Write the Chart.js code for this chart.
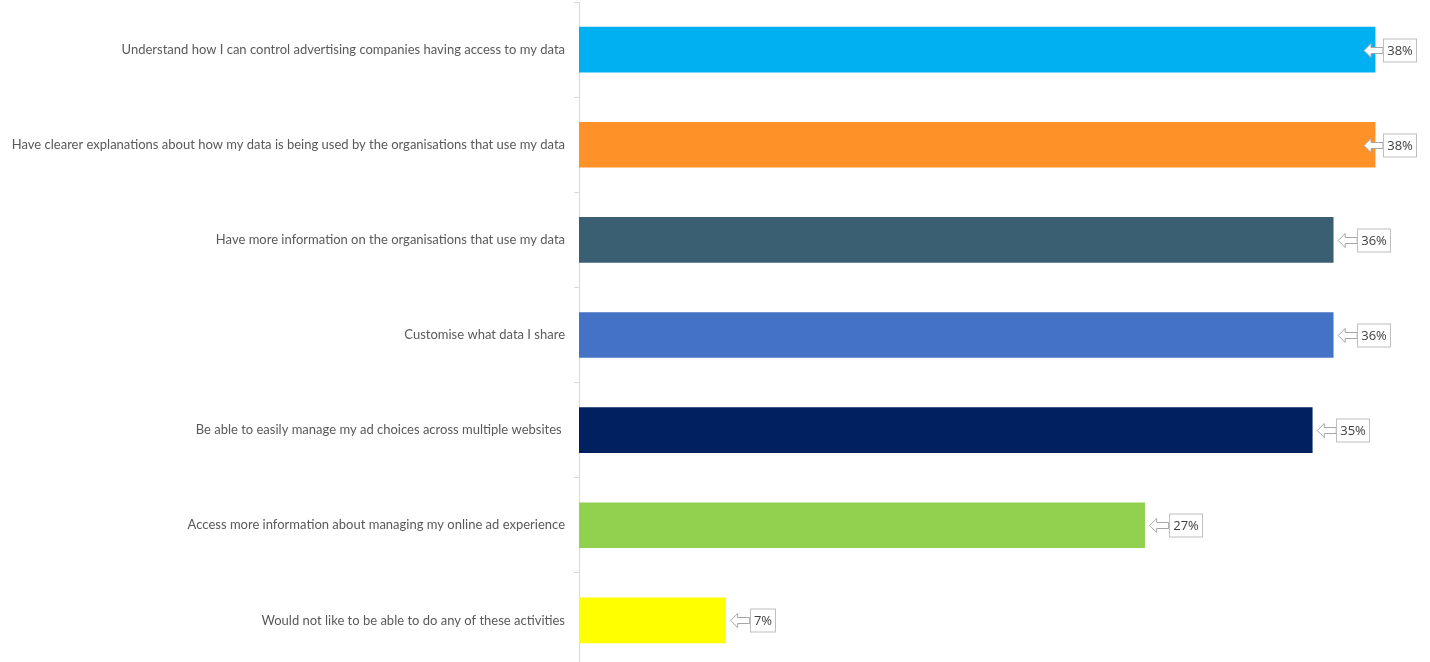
<!DOCTYPE html>
<html>
<head>
<meta charset="utf-8">
<title>Ad choices</title>
<script src="https://cdn.jsdelivr.net/npm/chart.js@4/dist/chart.umd.min.js"></script>
<style>
  html, body { margin: 0; padding: 0; background: #ffffff; overflow: hidden; }
  #wrap { width: 1430px; height: 668px; }
</style>
</head>
<body>
<div id="wrap"><canvas id="chart" width="1430" height="668"></canvas></div>
<script>
// Answers and the share of respondents choosing each one (%)
const categories = [
  "Understand how I can control advertising companies having access to my data",
  "Have clearer explanations about how my data is being used by the organisations that use my data",
  "Have more information on the organisations that use my data",
  "Customise what data I share",
  "Be able to easily manage my ad choices across multiple websites ",
  "Access more information about managing my online ad experience",
  "Would not like to be able to do any of these activities"
];
const shares = [38, 38, 36, 36, 35, 27, 7];
const barColors = ["#00B0F0", "#FF9129", "#3A5F73", "#4472C4", "#002060", "#92D050", "#FFFF00"];

// Callout-style value labels: a boxed value with a hollow arrow pointing at the bar end
const calloutLabels = {
  id: "calloutLabels",
  afterDatasetsDraw(chart) {
    const ctx = chart.ctx;
    const meta = chart.getDatasetMeta(0);
    const limit = chart.chartArea.right - 1;
    ctx.save();
    ctx.font = "13px 'Open Sans', sans-serif";
    meta.data.forEach((bar, i) => {
      const text = shares[i] + "%";
      const tw = ctx.measureText(text).width;
      const boxW = Math.round(tw + 7);
      const boxH = 23;
      let tip = bar.x + 5;
      let boxL = tip + 19;
      const over = boxL + boxW - limit;
      if (over > 0) { tip -= over; boxL -= over; }
      const cy = Math.round(bar.y) + 0.5;
      const headX = tip + 7;
      // arrow
      ctx.beginPath();
      ctx.moveTo(tip, cy);
      ctx.lineTo(headX, cy - 7);
      ctx.lineTo(headX, cy - 3);
      ctx.lineTo(boxL, cy - 3);
      ctx.lineTo(boxL, cy + 3);
      ctx.lineTo(headX, cy + 3);
      ctx.lineTo(headX, cy + 7);
      ctx.closePath();
      ctx.fillStyle = "#ffffff";
      ctx.fill();
      ctx.strokeStyle = "#A6A6A6";
      ctx.lineWidth = 1;
      ctx.stroke();
      // box
      const bx = Math.round(boxL) + 0.5;
      const by = Math.round(cy - boxH / 2);
      ctx.fillStyle = "#ffffff";
      ctx.fillRect(bx, by, boxW, boxH);
      ctx.strokeStyle = "#BFBFBF";
      ctx.strokeRect(bx, by, boxW, boxH);
      ctx.fillStyle = "#404040";
      ctx.textAlign = "center";
      ctx.textBaseline = "middle";
      ctx.fillText(text, bx + boxW / 2, cy + 1);
    });
    ctx.restore();
  }
};

new Chart(document.getElementById("chart"), {
  type: "bar",
  data: {
    labels: categories,
    datasets: [{
      data: shares,
      backgroundColor: barColors,
      borderWidth: 0,
      barThickness: 45,
      categoryPercentage: 1
    }]
  },
  options: {
    indexAxis: "y",
    responsive: false,
    animation: false,
    layout: { padding: { top: 2, right: 13, bottom: 0, left: 0 } },
    plugins: { legend: { display: false }, tooltip: { enabled: false } },
    scales: {
      x: { display: false, min: 0, max: 40 },
      y: {
        afterFit(scale) {
          scale.width = 579;
          scale.paddingTop = 0;
          scale.paddingBottom = 0;
        },
        border: { display: true, color: "#D9D9D9", width: 1 },
        grid: { drawOnChartArea: false, drawTicks: true, tickLength: 5, color: "#D9D9D9", offset: true },
        ticks: {
          color: "#595959",
          padding: 9,
          autoSkip: false,
          font: { family: "Lato, 'Open Sans', sans-serif", size: 13 }
        }
      }
    }
  },
  plugins: [calloutLabels]
});
</script>
</body>
</html>
